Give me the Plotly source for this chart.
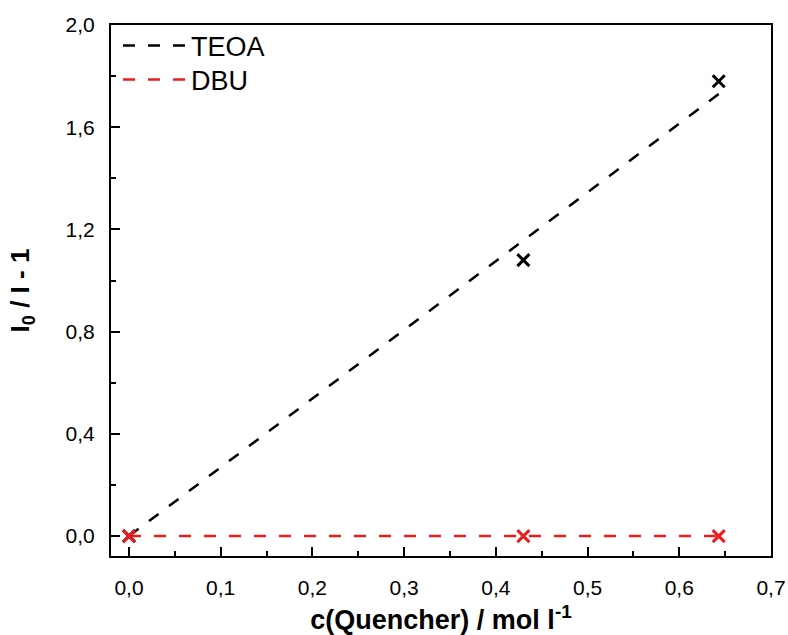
import plotly.graph_objects as go

# Data
conc = [0.0, 0.43, 0.643]
teoa_y = [0.0, 1.08, 1.78]
dbu_y = [0.0, 0.0, 0.0]
teoa_fit_x = [0.0, 0.643]
teoa_fit_y = [0.0, 1.73]
dbu_fit_x = [0.0, 0.643]
dbu_fit_y = [0.0, 0.0]

x_ticks = [0.0, 0.1, 0.2, 0.3, 0.4, 0.5, 0.6, 0.7]
x_labels = ["0,0", "0,1", "0,2", "0,3", "0,4", "0,5", "0,6", "0,7"]
y_ticks = [0.0, 0.4, 0.8, 1.2, 1.6, 2.0]
y_labels = ["0,0", "0,4", "0,8", "1,2", "1,6", "2,0"]

BLACK = "#000000"
RED = "#ee1c1c"
FONT = "Liberation Sans, Arial, sans-serif"
DASH = "12px,13px"

fig = go.Figure()
fig.add_trace(go.Scatter(x=teoa_fit_x, y=teoa_fit_y, mode="lines", name="TEOA",
                         legend="legend",
                         line=dict(color=BLACK, width=2.5, dash=DASH)))
fig.add_trace(go.Scatter(x=dbu_fit_x, y=dbu_fit_y, mode="lines", name="DBU",
                         legend="legend2",
                         line=dict(color=RED, width=2.5, dash=DASH)))
fig.add_trace(go.Scatter(x=conc, y=teoa_y, mode="markers", showlegend=False,
                         marker=dict(symbol="x-thin", size=12, color=BLACK,
                                     line=dict(color=BLACK, width=3))))
fig.add_trace(go.Scatter(x=conc, y=dbu_y, mode="markers", showlegend=False,
                         marker=dict(symbol="x-thin", size=12, color=RED,
                                     line=dict(color=RED, width=3))))

axis_common = dict(showline=True, linecolor="black", linewidth=2, mirror=True,
                   showgrid=False, zeroline=False, ticks="inside", ticklen=9,
                   tickwidth=2, tickcolor="black", automargin=False,
                   tickfont=dict(family=FONT, size=21, color="black"))

fig.update_xaxes(range=[-0.0196, 0.7], tickvals=x_ticks, ticktext=x_labels,
                 minor=dict(ticks="inside", ticklen=5, tickwidth=2, tickcolor="black", dtick=0.05, tick0=0),
                 ticklabelstandoff=12,
                 title=dict(text="<b>c(Quencher) / mol l<sup>-1</sup></b>",
                            font=dict(family=FONT, size=27, color="black"), standoff=16),
                 **axis_common)
fig.update_yaxes(range=[-0.078, 2.0], tickvals=y_ticks, ticktext=y_labels,
                 minor=dict(ticks="inside", ticklen=5, tickwidth=2, tickcolor="black", dtick=0.2, tick0=0),
                 ticklabelstandoff=10,
                 title=dict(text="<b>I<sub>0</sub> / I - 1</b>",
                            font=dict(family=FONT, size=26, color="black"), standoff=28),
                 **axis_common)

legend_common = dict(xanchor="left", yanchor="middle", bgcolor="rgba(0,0,0,0)",
                     borderwidth=0, itemwidth=63,
                     font=dict(family=FONT, size=27, color="black"))

fig.update_layout(
    width=788, height=635,
    margin=dict(l=111, r=17, t=25, b=79),
    paper_bgcolor="white", plot_bgcolor="white",
    font=dict(family=FONT, color="black"),
    legend=dict(x=0.0106, y=1 - (46 - 25) / 531, **legend_common),
    legend2=dict(x=0.0106, y=1 - (80 - 25) / 531, **legend_common),
)

fig.write_html("out.html")
